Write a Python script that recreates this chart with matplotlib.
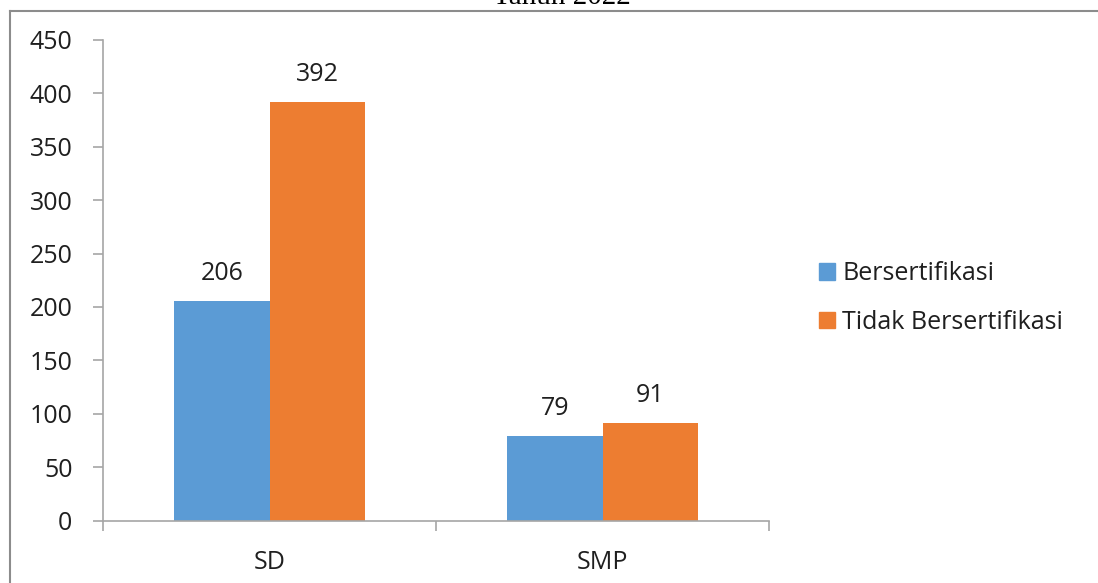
import numpy as np
import matplotlib.pyplot as plt
from matplotlib.lines import Line2D
from matplotlib.patches import Patch

jenjang = ['SD', 'SMP']
bersertifikasi = [206, 79]
tidak_bersertifikasi = [392, 91]
seri = ['Bersertifikasi', 'Tidak Bersertifikasi']
warna = ['#5B9BD5', '#ED7D31']

plt.rcParams['font.family'] = ['Open Sans', 'DejaVu Sans']
teks = '#1F1F1F'
garis = '#A6A6A6'
ukuran = 18

fig = plt.figure(figsize=(10.98, 5.83), dpi=100)
ax = fig.add_axes([0.0938, 0.1072, 0.6066, 0.8242])

x = np.arange(len(jenjang))
lebar = 1 / 3.5
b1 = ax.bar(x - lebar / 2, bersertifikasi, lebar, color=warna[0])
b2 = ax.bar(x + lebar / 2, tidak_bersertifikasi, lebar, color=warna[1])

for bars, vals in ((b1, bersertifikasi), (b2, tidak_bersertifikasi)):
    for rect, v in zip(bars, vals):
        ax.annotate(str(v), (rect.get_x() + rect.get_width() / 2, v),
                    xytext=(0, 15), textcoords='offset points',
                    ha='center', va='baseline', fontsize=ukuran, color=teks)

ax.set_xlim(-0.5, 1.5)
ax.set_ylim(0, 450)
ax.set_yticks(np.arange(0, 451, 50))
ax.set_xticks(x)
ax.set_xticklabels(jenjang)
# batas kategori sebagai tick minor pada sumbu x
ax.set_xticks([-0.5, 0.5, 1.5], minor=True)
ax.tick_params(axis='x', which='major', length=0, pad=21, labelsize=ukuran, labelcolor=teks)
ax.tick_params(axis='x', which='minor', length=7, width=1.2, color=garis, direction='out')
ax.tick_params(axis='y', length=7, width=1.2, color=garis, pad=15, labelsize=ukuran, labelcolor=teks)

for s in ('top', 'right'):
    ax.spines[s].set_visible(False)
for s in ('left', 'bottom'):
    ax.spines[s].set_color(garis)
    ax.spines[s].set_linewidth(1.2)

handles = [Patch(color=c) for c in warna]
fig.legend(handles, seri, loc='center left', bbox_to_anchor=(0.725, 0.489),
           frameon=False, fontsize=ukuran, handlelength=0.65, handleheight=0.65,
           handletextpad=0.3, labelspacing=0.95, labelcolor=teks)

# bingkai area grafik
fig.add_artist(Line2D([10 / 1098, 10 / 1098], [0, 1 - 11 / 583],
                      transform=fig.transFigure, color='#8C8C8C', lw=1.5))
fig.add_artist(Line2D([10 / 1098, 1], [1 - 11 / 583, 1 - 11 / 583],
                      transform=fig.transFigure, color='#8C8C8C', lw=1.5))

fig.text(0.512, 1 - 4 / 583, 'Tahun 2022', ha='center', va='baseline',
         fontsize=21, family='Liberation Serif', color='black')

fig.savefig('out.png', dpi=100)
